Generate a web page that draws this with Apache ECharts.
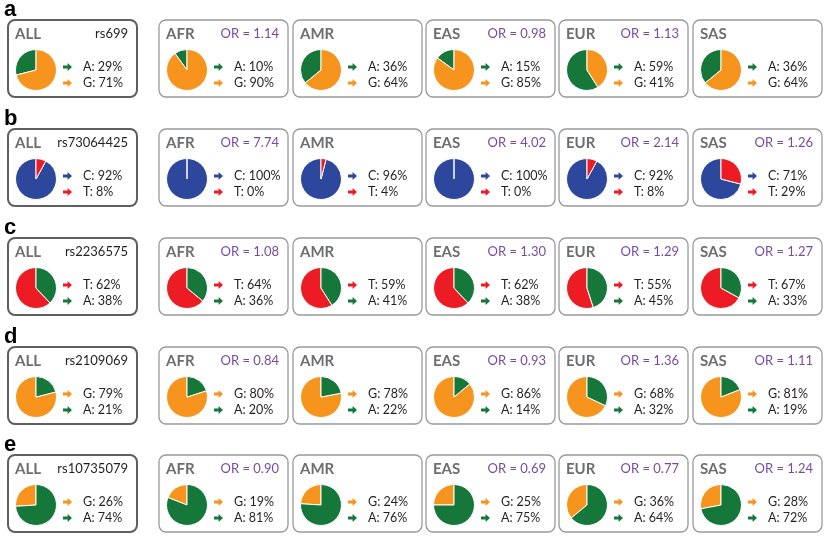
<!DOCTYPE html>
<html><head><meta charset="utf-8">
<script src="https://cdn.jsdelivr.net/npm/echarts@6/dist/echarts.min.js"></script>
<style>html,body{margin:0;padding:0;background:#fff}#c{width:825px;height:537px}</style>
</head><body><div id="c"></div>
<script>
// ---- data ----
const panelLetters = ['a', 'b', 'c', 'd', 'e'];
const snps = ['rs699', 'rs73064425', 'rs2236575', 'rs2109069', 'rs10735079'];
const populations = ['ALL', 'AFR', 'AMR', 'EAS', 'EUR', 'SAS'];
const firstAllele = ['A', 'C', 'T', 'G', 'G'];
const secondAllele = ['G', 'T', 'A', 'A', 'A'];
// allele frequencies (%) per population: ALL, AFR, AMR, EAS, EUR, SAS
const rs699_first = [29, 10, 36, 15, 59, 36];
const rs699_second = [71, 90, 64, 85, 41, 64];
const rs73064425_first = [92, 100, 96, 100, 92, 71];
const rs73064425_second = [8, 0, 4, 0, 8, 29];
const rs2236575_first = [62, 64, 59, 62, 55, 67];
const rs2236575_second = [38, 36, 41, 38, 45, 33];
const rs2109069_first = [79, 80, 78, 86, 68, 81];
const rs2109069_second = [21, 20, 22, 14, 32, 19];
const rs10735079_first = [26, 19, 24, 25, 36, 28];
const rs10735079_second = [74, 81, 76, 75, 64, 72];
// odds ratios (null = not shown)
const rs699_OR = [null, 1.14, null, 0.98, 1.13, null];
const rs73064425_OR = [null, 7.74, null, 4.02, 2.14, 1.26];
const rs2236575_OR = [null, 1.08, null, 1.30, 1.29, 1.27];
const rs2109069_OR = [null, 0.84, null, 0.93, 1.36, 1.11];
const rs10735079_OR = [null, 0.90, null, 0.69, 0.77, 1.24];

const firstFreqs = [rs699_first, rs73064425_first, rs2236575_first, rs2109069_first, rs10735079_first];
const secondFreqs = [rs699_second, rs73064425_second, rs2236575_second, rs2109069_second, rs10735079_second];
const oddsRatios = [rs699_OR, rs73064425_OR, rs2236575_OR, rs2109069_OR, rs10735079_OR];

// ---- styling ----
const alleleColors = { A: '#15783a', G: '#f7941d', C: '#2d479c', T: '#ed1c24' };
const boxLefts = [8, 159, 293, 426, 559, 693];
const rowTops = [20, 129, 238, 347, 455];
const boxW = 129, boxH = 77;
const FONT = 'Lato, "Open Sans", sans-serif';
const arrow = 'path://M0,2.6L4.6,2.6L4.6,0L9,4L4.6,8L4.6,5.4L0,5.4Z';

const series = [], legends = [], graphics = [];
panelLetters.forEach((letter, r) => {
  const top = rowTops[r];
  graphics.push({ type: 'text', left: 4, top: top - 21, z: 10,
    style: { text: letter, font: 'bold 22px "Liberation Sans", Arial, sans-serif', fill: '#000' } });
  populations.forEach((pop, p) => {
    const left = boxLefts[p];
    const isAll = p === 0;
    graphics.push({ type: 'rect', z: 0,
      shape: { x: left, y: top, width: boxW, height: boxH, r: 7 },
      style: { fill: 'none', stroke: isAll ? '#5e5f61' : '#98999b', lineWidth: isAll ? 2 : 1.3 } });
    graphics.push({ type: 'text', z: 10, x: left + 7, y: top + 14,
      style: { text: pop, font: 'bold 15px ' + FONT, fill: '#6d6e71', textVerticalAlign: 'middle' } });
    let rt = null, col = '#231f20';
    if (isAll) rt = snps[r];
    else if (oddsRatios[r][p] !== null) { rt = 'OR = ' + oddsRatios[r][p].toFixed(2); col = '#7a4a9f'; }
    if (rt) graphics.push({ type: 'text', z: 10, x: left + boxW - 9, y: top + 14,
      style: { text: rt, font: '13px ' + FONT, fill: col, textAlign: 'right', textVerticalAlign: 'middle' } });

    const a1 = firstAllele[r], a2 = secondAllele[r];
    const n1 = a1 + ': ' + firstFreqs[r][p] + '%';
    const n2 = a2 + ': ' + secondFreqs[r][p] + '%';
    series.push({
      type: 'pie', center: [left + 28, top + 50], radius: 20.5,
      startAngle: 90, clockwise: false, animation: false, silent: true,
      label: { show: false }, labelLine: { show: false },
      emphasis: { disabled: true },
      itemStyle: { borderColor: '#ffffff', borderWidth: 1 },
      data: [
        { name: n1, value: firstFreqs[r][p], itemStyle: { color: alleleColors[a1] } },
        { name: n2, value: secondFreqs[r][p], itemStyle: { color: alleleColors[a2] } }
      ]
    });
    legends.push({
      orient: 'vertical', left: left + 55, top: top + 40, padding: 0,
      itemWidth: 9, itemHeight: 8, itemGap: 2, icon: arrow, selectedMode: false,
      itemStyle: { borderWidth: 0 },
      textStyle: { fontSize: 12.5, fontFamily: FONT, color: '#231f20', padding: [0, 0, 0, 6], lineHeight: 14 },
      data: [n1, n2]
    });
  });
});

const chart = echarts.init(document.getElementById('c'), null, { renderer: 'canvas' });
chart.setOption({ animation: false, backgroundColor: '#fff', legend: legends, series: series, graphic: graphics });
</script></body></html>
